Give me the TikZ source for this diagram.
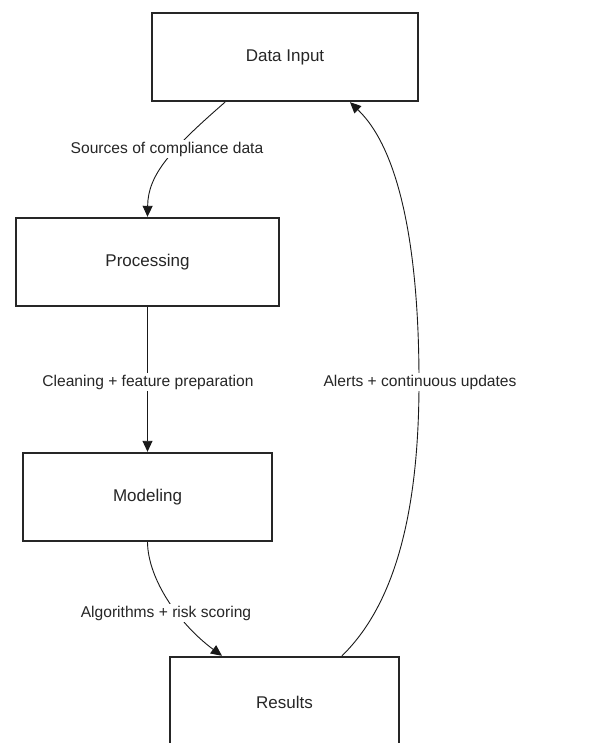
\documentclass[tikz,border=0pt]{standalone}
\usepackage{fontspec}
\setmainfont{Liberation Sans}
\usetikzlibrary{arrows.meta}
\begin{document}
\begin{tikzpicture}[x=1pt,y=-1pt,
  box/.style={draw=black!85,line width=2.4pt,fill=white,minimum height=88pt,inner sep=0pt,
    font=\fontsize{17}{20}\selectfont,text=black!85},
  lbl/.style={fill=white,inner sep=1.5pt,font=\fontsize{15.6}{18}\selectfont,text=black!85},
  conn/.style={draw=black!90,line width=0.9pt,-{Triangle[length=11pt,width=10pt]}}]
\clip (0,0) rectangle (590,743);
\fill[white] (0,0) rectangle (590,743);
\node[box,minimum width=266pt] (din) at (285,57) {Data Input};
\node[box,minimum width=263pt] (proc) at (147.5,262) {Processing};
\node[box,minimum width=249pt] (model) at (147.5,497) {Modeling};
\node[box,minimum width=229pt,minimum height=90pt] (res) at (284.5,702) {Results};
% connectors
\draw[conn] ([xshift=-60pt]din.south) .. controls (170,150) and (148,175) .. (proc.north);
\draw[conn] (proc.south) -- (model.north);
\draw[conn] (model.south) .. controls (148,580) and (180,625) .. ([xshift=-62.5pt]res.north);
\draw[conn] ([xshift=57.5pt]res.north) .. controls (392,607) and (419,520) .. (419,382)
   .. controls (419,250) and (400,150) .. ([xshift=65pt]din.south);
% labels
\node[lbl] (l1) at (167,149) {Sources of compliance data};
\node[lbl] (l2) at (148,382) {Cleaning + feature preparation};
\node[lbl] (l3) at (166,613) {Algorithms + risk scoring};
\node[lbl] (l4) at (420,382) {Alerts + continuous updates};
\end{tikzpicture}
\end{document}
